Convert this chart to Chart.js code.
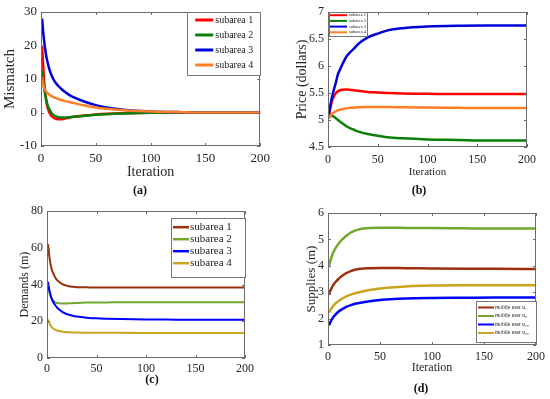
<!DOCTYPE html>
<html>
<head>
<meta charset="utf-8">
<script src="https://cdn.jsdelivr.net/npm/chart.js@4.4.0/dist/chart.umd.min.js"></script>
<style>
body { margin: 0; background: #fff; width: 550px; height: 399px; position: relative; overflow: hidden; }
.panel { position: absolute; }
.cap { position: absolute; font: bold 12px "Liberation Serif", serif; color: #111; transform: translate(-50%, -50%); }
</style>
</head>
<body>
<div class="panel" style="left:0;top:0;width:275px;height:183px"><canvas id="chartA"></canvas></div>
<div class="panel" style="left:292px;top:0;width:258px;height:180px"><canvas id="chartB"></canvas></div>
<div class="panel" style="left:15px;top:200px;width:260px;height:175px"><canvas id="chartC"></canvas></div>
<div class="panel" style="left:300px;top:200px;width:250px;height:177px"><canvas id="chartD"></canvas></div>
<div class="cap" style="left:140px;top:190px">(a)</div>
<div class="cap" style="left:419px;top:190px">(b)</div>
<div class="cap" style="left:152px;top:379px">(c)</div>
<div class="cap" style="left:421px;top:388px">(d)</div>
<script>
const iterations = [1, 2, 3, 4, 5, 6, 8, 10, 12, 15, 18, 22, 26, 30, 40, 50, 60, 75, 100, 130, 160, 200];

const subareaLabels = ['subarea 1', 'subarea 2', 'subarea 3', 'subarea 4'];
const userLabels = ['mobile user u\u2081', 'mobile user u\u2089', 'mobile user u\u2081\u2088', 'mobile user u\u2082\u2080'];

// (a) mismatch
const mismatch1 = [20, 14, 9, 5.5, 3, 1.5, -0.3, -1.2, -1.7, -2.0, -2.0, -1.8, -1.5, -1.25, -0.9, -0.6, -0.4, -0.2, -0.05, 0, 0, 0];
const mismatch2 = [12.5, 9.5, 7, 5, 3.5, 2.3, 0.7, -0.3, -0.9, -1.3, -1.5, -1.5, -1.4, -1.3, -1.0, -0.7, -0.5, -0.3, -0.1, 0, 0, 0];
const mismatch3 = [28, 24, 21, 18.5, 16.5, 15, 12.5, 10.8, 9.5, 8.2, 7.2, 6.1, 5.2, 4.5, 3.2, 2.2, 1.5, 0.8, 0.3, 0.1, 0, 0];
const mismatch4 = [10.5, 8.5, 7.3, 6.6, 6.1, 5.8, 5.2, 4.8, 4.5, 4.1, 3.8, 3.4, 3.1, 2.8, 2.1, 1.5, 1.1, 0.7, 0.3, 0.1, 0, 0];

// (b) price
const price1 = [5.1, 5.2, 5.28, 5.35, 5.4, 5.44, 5.5, 5.53, 5.55, 5.56, 5.565, 5.56, 5.55, 5.54, 5.52, 5.51, 5.5, 5.49, 5.485, 5.48, 5.48, 5.48];
const price2 = [5.05, 5.07, 5.08, 5.08, 5.07, 5.06, 5.03, 5.0, 4.97, 4.93, 4.89, 4.85, 4.82, 4.79, 4.74, 4.71, 4.68, 4.66, 4.64, 4.63, 4.62, 4.62];
const price3 = [5.1, 5.22, 5.33, 5.42, 5.5, 5.57, 5.7, 5.85, 5.93, 6.05, 6.16, 6.25, 6.32, 6.4, 6.53, 6.6, 6.66, 6.7, 6.73, 6.745, 6.75, 6.75];
const price4 = [5.03, 5.06, 5.09, 5.11, 5.13, 5.14, 5.16, 5.18, 5.19, 5.205, 5.215, 5.225, 5.23, 5.235, 5.24, 5.24, 5.24, 5.235, 5.23, 5.225, 5.22, 5.22];

// (c) demands
const demand1 = [62, 57, 53, 50, 48, 46.5, 44.2, 42.6, 41.5, 40.4, 39.7, 39.1, 38.8, 38.6, 38.5, 38.4, 38.4, 38.4, 38.4, 38.4, 38.4, 38.4];
const demand2 = [41, 37, 34.5, 33, 32, 31.3, 30.5, 30, 29.8, 29.7, 29.7, 29.8, 29.9, 30.0, 30.2, 30.3, 30.3, 30.4, 30.4, 30.4, 30.4, 30.4];
const demand3 = [41.5, 38, 35.5, 33.5, 32, 30.8, 29, 27.6, 26.5, 25.3, 24.4, 23.6, 23.0, 22.6, 22.0, 21.6, 21.4, 21.2, 21.0, 20.9, 20.8, 20.8];
const demand4 = [21, 19.5, 18.3, 17.4, 16.7, 16.2, 15.5, 15.0, 14.7, 14.4, 14.2, 14.0, 13.9, 13.85, 13.8, 13.75, 13.7, 13.7, 13.65, 13.6, 13.6, 13.6];

// (d) supplies
const supply1 = [2.9, 3.02, 3.12, 3.2, 3.27, 3.33, 3.42, 3.5, 3.57, 3.66, 3.73, 3.8, 3.85, 3.88, 3.91, 3.92, 3.915, 3.91, 3.9, 3.89, 3.885, 3.88];
const supply2 = [4.0, 4.15, 4.28, 4.4, 4.5, 4.58, 4.72, 4.83, 4.93, 5.05, 5.15, 5.26, 5.33, 5.38, 5.43, 5.44, 5.44, 5.435, 5.43, 5.42, 5.41, 5.41];
const supply3 = [1.75, 1.84, 1.92, 1.99, 2.05, 2.1, 2.19, 2.26, 2.32, 2.39, 2.45, 2.51, 2.56, 2.59, 2.66, 2.7, 2.73, 2.76, 2.78, 2.79, 2.8, 2.8];
const supply4 = [2.22, 2.3, 2.37, 2.43, 2.48, 2.53, 2.6, 2.66, 2.72, 2.79, 2.85, 2.91, 2.96, 3.0, 3.08, 3.14, 3.18, 3.22, 3.25, 3.26, 3.26, 3.26];

const colorsTop = ['#ff0000', '#0a800a', '#0000d8', '#ff7f27'];
const colorsBottom = ['#9a2f0c', '#72a82c', '#0000ff', '#c9a41c'];
const serif = '"Liberation Serif", "Times New Roman", serif';

// box around the axes, inward ticks and a matlab-like legend
const framePlugin = {
    id: 'frame',
    afterDatasetsDraw(chart, args, opts) {
        const { ctx, chartArea: a, scales: { x, y } } = chart;
        ctx.save();
        ctx.strokeStyle = '#6a6a6a';
        ctx.lineWidth = 1;
        ctx.strokeRect(Math.round(a.left) + 0.5, Math.round(a.top) + 0.5,
            Math.round(a.width) - 1, Math.round(a.height) - 1);
        ctx.beginPath();
        x.ticks.forEach(t => {
            const px = Math.round(x.getPixelForValue(t.value)) + 0.5;
            ctx.moveTo(px, a.bottom); ctx.lineTo(px, a.bottom - 3);
            ctx.moveTo(px, a.top); ctx.lineTo(px, a.top + 3);
        });
        y.ticks.forEach(t => {
            const py = Math.round(y.getPixelForValue(t.value)) + 0.5;
            ctx.moveTo(a.left, py); ctx.lineTo(a.left + 3, py);
            ctx.moveTo(a.right, py); ctx.lineTo(a.right - 3, py);
        });
        ctx.stroke();

        const lg = opts.legend;
        if (lg) {
            const lx = lg.ax === 'right' ? a.right - lg.dx - lg.w : a.left + lg.dx;
            const ly = lg.ay === 'bottom' ? a.bottom - lg.dy - lg.h : a.top + lg.dy;
            ctx.fillStyle = '#fff';
            ctx.fillRect(lx, ly, lg.w, lg.h);
            ctx.strokeStyle = '#777';
            ctx.strokeRect(Math.round(lx) + 0.5, Math.round(ly) + 0.5, lg.w, lg.h);
            ctx.font = lg.font + 'px ' + serif;
            ctx.textBaseline = 'middle';
            ctx.textAlign = 'left';
            chart.data.datasets.forEach((ds, i) => {
                const ry = ly + lg.row0 + i * lg.gap;
                ctx.strokeStyle = ds.borderColor;
                ctx.lineWidth = lg.lw;
                ctx.beginPath();
                ctx.moveTo(lx + lg.sx, ry);
                ctx.lineTo(lx + lg.sx + lg.len, ry);
                ctx.stroke();
                ctx.fillStyle = '#222';
                ctx.fillText(ds.label, lx + lg.tx, ry);
            });
        }
        ctx.restore();
    }
};

function makePanel(id, p) {
    const datasets = p.series.map((arr, i) => ({
        label: p.labels[i],
        data: iterations.map((it, k) => ({ x: it, y: arr[k] })),
        borderColor: p.colors[i],
        borderWidth: p.lineWidth,
        pointRadius: 0,
        cubicInterpolationMode: 'monotone',
        order: 4 - i
    }));
    return new Chart(document.getElementById(id), {
        type: 'line',
        data: { datasets },
        plugins: [framePlugin],
        options: {
            responsive: true,
            maintainAspectRatio: false,
            animation: false,
            layout: { padding: { left: 0, top: p.padTop, right: p.padRight, bottom: 0 } },
            plugins: {
                legend: { display: false },
                tooltip: { enabled: false },
                frame: { legend: p.legend }
            },
            scales: {
                x: {
                    type: 'linear', min: 0, max: 200,
                    afterFit: s => { s.height = p.xHeight; },
                    grid: { display: false, drawTicks: false },
                    border: { display: false },
                    ticks: { stepSize: 50, padding: p.tickPadX, color: '#262626', font: { family: serif, size: p.tickSize } },
                    title: {
                        display: !!p.xTitle, text: p.xTitle, color: '#262626',
                        font: { family: serif, size: p.xTitleSize }, padding: { top: 0, bottom: p.xTitlePad }
                    }
                },
                y: {
                    min: p.yMin, max: p.yMax,
                    afterFit: s => { s.width = p.yWidth; },
                    grid: { display: false, drawTicks: false },
                    border: { display: false },
                    ticks: {
                        stepSize: p.yStep, padding: 4, color: '#262626', font: { family: serif, size: p.tickSize },
                        callback: v => String(v)
                    },
                    title: {
                        display: true, text: p.yTitle, color: '#262626',
                        font: { family: serif, size: p.yTitleSize }, padding: { top: p.yTitlePad, bottom: 0 }
                    }
                }
            }
        }
    });
}

makePanel('chartA', {
    series: [mismatch1, mismatch2, mismatch3, mismatch4], labels: subareaLabels, colors: colorsTop, lineWidth: 2.5,
    padTop: 12, padRight: 11, xHeight: 37, yWidth: 41, tickSize: 13, tickPadX: 5,
    xTitle: 'Iteration', xTitleSize: 14, xTitlePad: 2,
    yTitle: 'Mismatch', yTitleSize: 15, yTitlePad: 1,
    yMin: -10, yMax: 30, yStep: 10,
    legend: { ax: 'right', ay: 'top', dx: 0, dy: 0, w: 73, h: 63, row0: 8, gap: 15, sx: 8, len: 18, tx: 28, font: 10, lw: 3 }
});

makePanel('chartB', {
    series: [price1, price2, price3, price4], labels: subareaLabels, colors: colorsTop, lineWidth: 2.5,
    padTop: 12, padRight: 23, xHeight: 33, yWidth: 36, tickSize: 12, tickPadX: 6,
    xTitle: 'Iteration', xTitleSize: 11, xTitlePad: 1,
    yTitle: 'Price (dollars)', yTitleSize: 14, yTitlePad: 2,
    yMin: 4.5, yMax: 7, yStep: 0.5,
    legend: { ax: 'left', ay: 'top', dx: 1, dy: 0, w: 38, h: 24, row0: 3.2, gap: 5.7, sx: 1, len: 17, tx: 20, font: 4.5, lw: 2 }
});

makePanel('chartC', {
    series: [demand1, demand2, demand3, demand4], labels: subareaLabels, colors: colorsBottom, lineWidth: 2,
    padTop: 11, padRight: 30, xHeight: 17, yWidth: 32, tickSize: 12, tickPadX: 4,
    xTitle: '', xTitleSize: 12, xTitlePad: 0,
    yTitle: 'Demands (m)', yTitleSize: 12, yTitlePad: 3,
    yMin: 0, yMax: 80, yStep: 20,
    legend: { ax: 'right', ay: 'top', dx: 0, dy: 7, w: 74, h: 59, row0: 9, gap: 12, sx: 2, len: 16, tx: 19, font: 11, lw: 2.5 }
});

makePanel('chartD', {
    series: [supply1, supply2, supply3, supply4], labels: userLabels, colors: colorsBottom, lineWidth: 2.5,
    padTop: 13, padRight: 13, xHeight: 32, yWidth: 28, tickSize: 12, tickPadX: 5,
    xTitle: 'Iteration', xTitleSize: 12, xTitlePad: 2,
    yTitle: 'Supplies (m)', yTitleSize: 13, yTitlePad: 4,
    yMin: 1, yMax: 6, yStep: 1,
    legend: { ax: 'right', ay: 'bottom', dx: 0, dy: 3, w: 60, h: 41, row0: 6.5, gap: 8.5, sx: 2, len: 16, tx: 19, font: 5.5, lw: 2 }
});
</script>
</body>
</html>
